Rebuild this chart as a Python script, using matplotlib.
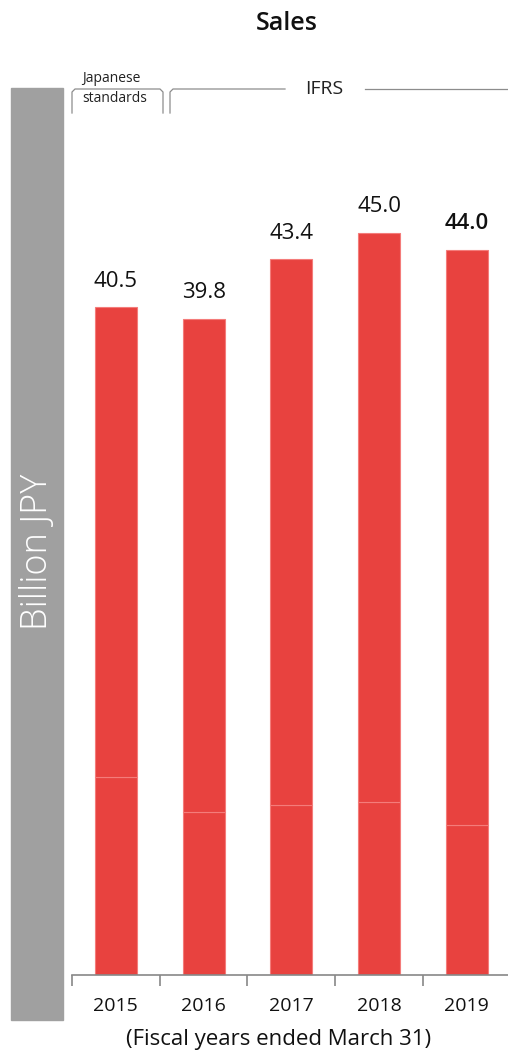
import matplotlib
matplotlib.use("Agg")
import matplotlib.pyplot as plt
from matplotlib.patches import Rectangle
import numpy as np

plt.rcParams['font.family'] = ['Open Sans', 'DejaVu Sans']

years = ["2015", "2016", "2017", "2018", "2019"]
sales = [40.5, 39.8, 43.4, 45.0, 44.0]
lower_part = [12.0, 9.9, 10.3, 10.5, 9.1]
labels = ["40.5", "39.8", "43.4", "45.0", "44.0"]

W, H = 508, 1056
fig = plt.figure(figsize=(W / 100, H / 100), dpi=100)

# overlay in pixel coordinates for decorations
ov = fig.add_axes([0, 0, 1, 1])
ov.set_xlim(0, W)
ov.set_ylim(H, 0)
ov.axis("off")

red = "#e8423f"
edge = "#f47c7a"

ax = fig.add_axes([72 / W, (H - 975) / H, (W - 72) / W, (975 - 88) / H])
x = np.arange(len(years))
upper = [s - l for s, l in zip(sales, lower_part)]
ax.bar(x, lower_part, width=0.48, color=red, edgecolor=edge, linewidth=0.8)
ax.bar(x, upper, bottom=lower_part, width=0.48, color=red, edgecolor=edge, linewidth=0.8)
ax.set_xlim(-0.5, 4.47)
ax.set_ylim(0, 53.8)
for i, (v, t) in enumerate(zip(sales, labels)):
    ax.text(i, v + 0.95, t, ha="center", va="bottom", fontsize=16,
            fontweight="semibold" if i == 4 else "normal", color="#111111")
for s in ["top", "right", "left"]:
    ax.spines[s].set_visible(False)
ax.spines["bottom"].set_color("#888888")
ax.spines["bottom"].set_linewidth(1.2)
ax.set_yticks([])
ax.set_xticks(np.arange(-0.5, 4.0, 1.0))
ax.set_xticklabels([])
ax.tick_params(axis="x", length=8, color="#888888", width=1.2, direction="out")
for i, y in enumerate(years):
    ax.text(i, -1.35, y, ha="center", va="top", fontsize=14, color="#111111")
ax.patch.set_alpha(0)

# gray band with axis title
ov.add_patch(Rectangle((11, 88), 52, 932, color="#a0a0a0", zorder=0))
ov.text(37, 552, "Billion JPY", rotation=90, ha="center", va="center",
        fontsize=26, color="white", fontweight="light")

# title and x label
ov.text(287, 24, "Sales", ha="center", va="center", fontsize=18,
        fontweight="semibold", color="#111111")
ov.text(279, 1040, "(Fiscal years ended March 31)", ha="center",
        va="center", fontsize=16, color="#111111")

# accounting standard brackets
gc = "#8c8c8c"
ov.plot([72, 72, 75, 160, 163, 163], [113, 92, 89, 89, 92, 113], color=gc, lw=0.9)
ov.text(82, 78, "Japanese", fontsize=10, ha="left", va="center", color="#222222")
ov.text(82, 99, "standards", fontsize=10, ha="left", va="center", color="#222222")
ov.plot([170, 170, 173, 285], [113, 92, 89, 89], color=gc, lw=0.9)
ov.plot([365, 508], [89, 89], color=gc, lw=0.9)
ov.text(324, 89, "IFRS", fontsize=14, ha="center", va="center", color="#222222")

fig.savefig("out.png", dpi=100)
